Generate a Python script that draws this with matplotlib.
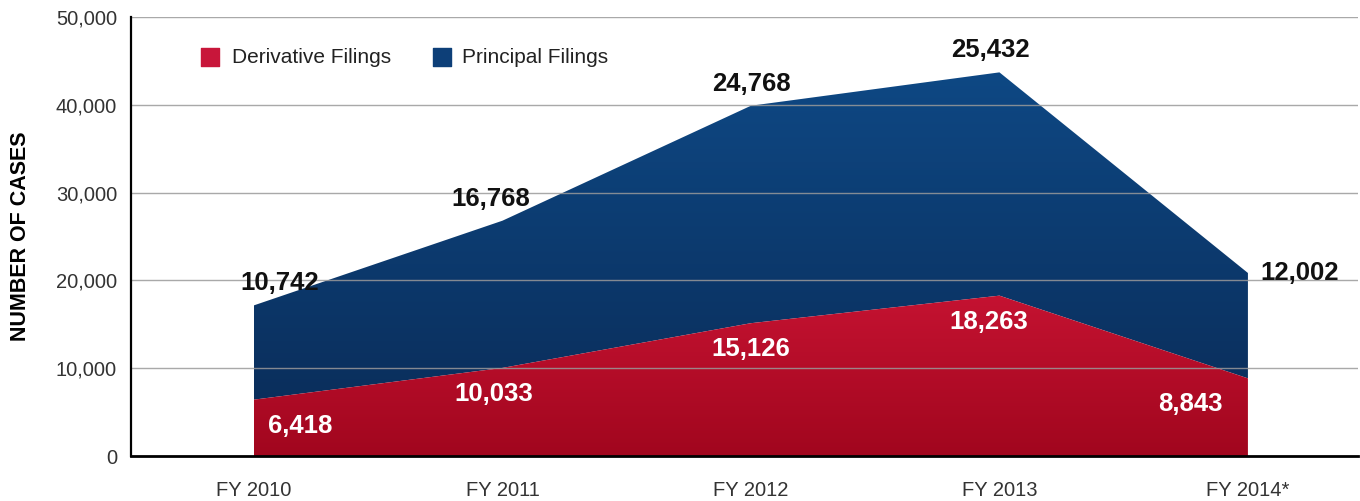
import numpy as np
import matplotlib
matplotlib.use("Agg")
import matplotlib.pyplot as plt
from matplotlib.colors import LinearSegmentedColormap

plt.rcParams['font.family'] = ['Liberation Sans', 'DejaVu Sans']

# Filings per fiscal year
years = ["FY 2010", "FY 2011", "FY 2012", "FY 2013", "FY 2014*"]
derivative = [6418, 10033, 15126, 18263, 8843]
principal = [10742, 16768, 24768, 25432, 12002]

y_ticks = [0, 10000, 20000, 30000, 40000, 50000]

RED_TOP, RED_BOT = "#cf1637", "#a1061e"
BLUE_TOP, BLUE_BOT = "#0e4884", "#0a2a55"

fig = plt.figure(figsize=(13.6, 5.01), dpi=100)
ax = fig.add_axes([131 / 1360, 45 / 501, (1358 - 131) / 1360, (456 - 17) / 501])

x = np.arange(len(years))
der = np.array(derivative, dtype=float)
total = der + np.array(principal, dtype=float)

xmin, xmax = -0.495, 4.443
ymin, ymax = 0, 50000
ax.set_xlim(xmin, xmax)
ax.set_ylim(ymin, ymax)


def gradient_fill(y_low, y_high, c_top, c_bot, ytop_val, zorder):
    poly = ax.fill_between(x, y_low, y_high, color="none", lw=0, zorder=zorder)
    cmap = LinearSegmentedColormap.from_list("g", [c_bot, c_top])
    grad = np.linspace(0, 1, 256).reshape(-1, 1)
    im = ax.imshow(grad, cmap=cmap, aspect="auto", origin="lower",
                   extent=[x[0], x[-1], 0, ytop_val], zorder=zorder,
                   interpolation="bilinear")
    path = poly.get_paths()[0]
    im.set_clip_path(path, transform=ax.transData)


gradient_fill(der, total, BLUE_TOP, BLUE_BOT, total.max(), 1)
gradient_fill(np.zeros_like(der), der, RED_TOP, RED_BOT, der.max() * 1.3, 2)
ax.set_xlim(xmin, xmax)
ax.set_ylim(ymin, ymax)

# grid lines drawn across the areas
for yv in y_ticks[1:]:
    ax.axhline(yv, color="#9a9a9a", lw=1.0, alpha=0.85, zorder=3)

ax.set_yticks(y_ticks)
ax.set_yticklabels([f"{v:,}" for v in y_ticks], fontsize=14.5, color="#333333")
ax.set_xticks(x)
ax.set_xticklabels(years, fontsize=14.5, color="#333333")
ax.tick_params(axis="x", which="major", length=0, pad=18)
ax.tick_params(axis="y", length=0, pad=10)
ax.set_xticks(x[:-1] + 0.5, minor=True)
ax.tick_params(axis="x", which="minor", direction="in", length=6, width=1.5,
               color="white")

for s in ["top", "right"]:
    ax.spines[s].set_visible(False)
ax.spines["left"].set_linewidth(1.6)
ax.spines["bottom"].set_linewidth(2.0)
ax.spines["left"].set_zorder(5)
ax.spines["bottom"].set_zorder(5)

ax.set_ylabel("NUMBER OF CASES", fontsize=15.5, fontweight="bold")
ax.yaxis.set_label_coords(-0.0815, 0.5)

# value labels
blue_dx = [26, -12, 0, -9, 52]
red_dx = [46, -9, 0, -11, -58]
lab_fs = 18.5
for i in range(len(years)):
    if i == len(years) - 1:
        ax.annotate(f"{principal[i]:,}", (x[i], total[i]), xytext=(blue_dx[i], 0),
                    textcoords="offset pixels", ha="center", va="center",
                    fontsize=lab_fs, fontweight="bold", color="#111111", zorder=6)
    else:
        ax.annotate(f"{principal[i]:,}", (x[i], total[i]), xytext=(blue_dx[i], 10),
                    textcoords="offset pixels", ha="center", va="bottom",
                    fontsize=lab_fs, fontweight="bold", color="#111111", zorder=6)
    ax.annotate(f"{derivative[i]:,}", (x[i], der[i]), xytext=(red_dx[i], -14),
                textcoords="offset pixels", ha="center", va="top",
                fontsize=lab_fs, fontweight="bold", color="white", zorder=6)

# legend
leg_y = 45400
ax.scatter([-0.176], [leg_y], marker="s", s=170, color="#c8163a", zorder=6)
ax.text(-0.09, leg_y, "Derivative Filings", fontsize=15, color="#222222",
        va="center", ha="left", zorder=6)
ax.scatter([0.757], [leg_y], marker="s", s=170, color="#0d3f78", zorder=6)
ax.text(0.837, leg_y, "Principal Filings", fontsize=15, color="#222222",
        va="center", ha="left", zorder=6)

fig.savefig("out.png", dpi=100, facecolor="white")
